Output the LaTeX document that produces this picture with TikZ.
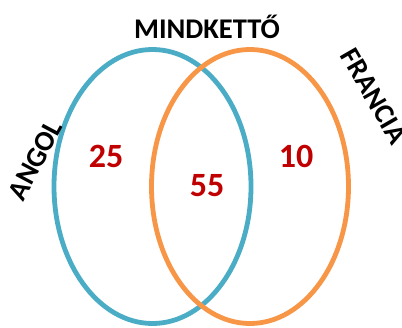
\documentclass[tikz,border=0pt]{standalone}
\usepackage{fontspec}
\setmainfont{Carlito}
\usepackage{tikz}
\usetikzlibrary{shapes.geometric}

\definecolor{angolblue}{HTML}{4BACC6}
\definecolor{franciaorange}{HTML}{F79646}
\definecolor{countred}{HTML}{C00000}

\begin{document}
\begin{tikzpicture}[x=1pt,y=-1pt,
	set/.style={draw,ellipse,line width=4.8pt,inner sep=0pt,minimum width=197pt,minimum height=274pt},
	label/.style={font=\fontsize{28.5}{30}\selectfont\bfseries,black,inner sep=0pt},
	count/.style={font=\fontsize{34}{36}\selectfont\bfseries,countred,inner sep=0pt}]

	\useasboundingbox (0,0) rectangle (402,327);

	% the two sets
	\node [name=angol,set,angolblue] at (152.5,186.5) {};
	\node [name=francia,set,franciaorange] at (250,186.5) {};

	% set titles
	\node [name=both,label] at (207,27) {MINDKETTŐ};
	\node [name=angoltitle,label,rotate=62] at (35,160) {ANGOL};
	\node [name=franciatitle,label,rotate=-60] at (374,96) {FRANCIA};

	% counts
	\node [name=onlyangol,count] at (106,156) {25};
	\node [name=common,count] at (207,186) {55};
	\node [name=onlyfrancia,count] at (296,156) {10};

\end{tikzpicture}
\end{document}
